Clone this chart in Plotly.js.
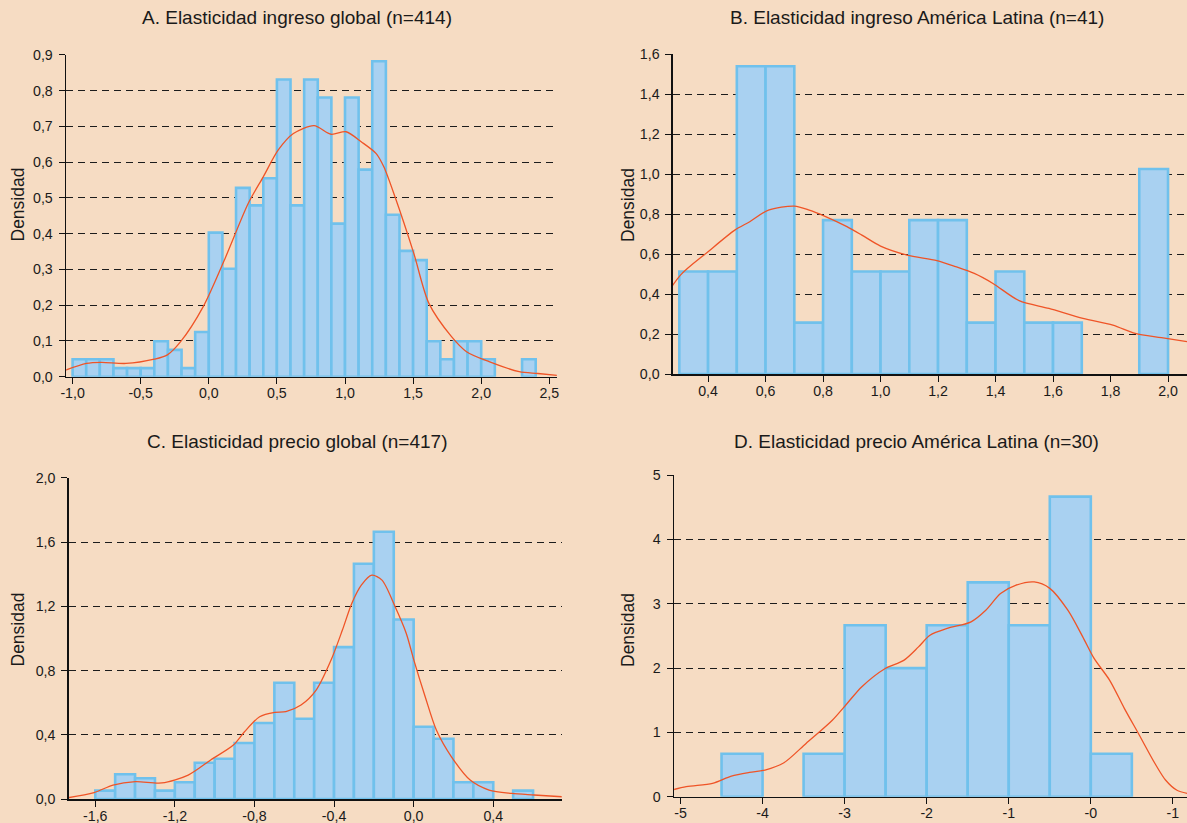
<!DOCTYPE html>
<html>
<head>
<meta charset="utf-8">
<script src="https://cdn.plot.ly/plotly-3.0.1.min.js"></script>
<style>html,body{margin:0;padding:0;background:#F6DCC3;}#chart{width:1187px;height:823px;}</style>
</head>
<body>
<div id="chart"></div>
<script>
// ---------- Panel A: Elasticidad ingreso global ----------
const A_binWidth = 0.1;
const A_binStart = [-1.0,-0.9,-0.8,-0.7,-0.6,-0.5,-0.4,-0.3,-0.2,-0.1,0.0,0.1,0.2,0.3,0.4,0.5,0.6,0.7,0.8,0.9,1.0,1.1,1.2,1.3,1.4,1.5,1.6,1.7,1.8,1.9,2.0,2.3];
const A_density = [0.049,0.049,0.049,0.024,0.024,0.024,0.099,0.075,0.024,0.125,0.403,0.302,0.528,0.479,0.555,0.831,0.479,0.831,0.781,0.428,0.781,0.579,0.882,0.453,0.352,0.326,0.099,0.049,0.099,0.099,0.049,0.049];
const A_kdeX = [-1.133,-0.898,-0.787,-0.608,-0.40,-0.304,-0.207,-0.041,0.124,0.290,0.40,0.51,0.621,0.773,0.898,1.008,1.119,1.229,1.285,1.367,1.505,1.616,1.782,1.892,2.058,2.279,2.417,2.61];
const A_kdeY = [0.007,0.037,0.040,0.037,0.049,0.061,0.098,0.196,0.335,0.485,0.559,0.634,0.680,0.702,0.678,0.685,0.657,0.624,0.587,0.503,0.345,0.205,0.112,0.070,0.042,0.014,0.009,0.002];
const A_xTicks = [-1.0,-0.5,0.0,0.5,1.0,1.5,2.0,2.5];
const A_xLabels = ["-1,0","-0,5","0,0","0,5","1,0","1,5","2,0","2,5"];
const A_yTicks = [0,0.1,0.2,0.3,0.4,0.5,0.6,0.7,0.8,0.9];
const A_yLabels = ["0,0","0,1","0,2","0,3","0,4","0,5","0,6","0,7","0,8","0,9"];

// ---------- Panel B: Elasticidad ingreso América Latina ----------
const B_binWidth = 0.1;
const B_binStart = [0.3,0.4,0.5,0.6,0.7,0.8,0.9,1.0,1.1,1.2,1.3,1.4,1.5,1.6,1.9];
const B_density = [0.513,0.513,1.54,1.54,0.257,0.77,0.513,0.513,0.77,0.77,0.257,0.513,0.257,0.257,1.026];
const B_kdeX = [0.233,0.304,0.40,0.493,0.545,0.61,0.70,0.752,0.805,0.883,0.935,1.0,1.092,1.196,1.261,1.326,1.391,1.482,1.586,1.704,1.808,1.886,1.977,2.066];
const B_kdeY = [0.345,0.495,0.612,0.72,0.762,0.82,0.84,0.82,0.79,0.737,0.695,0.64,0.595,0.567,0.537,0.503,0.453,0.367,0.328,0.278,0.245,0.203,0.182,0.162];
const B_xTicks = [0.4,0.6,0.8,1.0,1.2,1.4,1.6,1.8,2.0];
const B_xLabels = ["0,4","0,6","0,8","1,0","1,2","1,4","1,6","1,8","2,0"];
const B_yTicks = [0,0.2,0.4,0.6,0.8,1.0,1.2,1.4,1.6];
const B_yLabels = ["0,0","0,2","0,4","0,6","0,8","1,0","1,2","1,4","1,6"];

// ---------- Panel C: Elasticidad precio global ----------
const C_binWidth = 0.1;
const C_binStart = [-1.6,-1.5,-1.4,-1.3,-1.2,-1.1,-1.0,-0.9,-0.8,-0.7,-0.6,-0.5,-0.4,-0.3,-0.2,-0.1,0.0,0.1,0.2,0.3,0.5];
const C_density = [0.052,0.154,0.129,0.052,0.104,0.226,0.251,0.349,0.473,0.724,0.50,0.724,0.946,1.465,1.664,1.118,0.450,0.375,0.104,0.104,0.052];
const C_kdeX = [-1.776,-1.606,-1.511,-1.398,-1.265,-1.133,-1.02,-0.906,-0.85,-0.774,-0.698,-0.642,-0.566,-0.49,-0.415,-0.358,-0.311,-0.263,-0.210,-0.159,-0.093,-0.037,0.001,0.058,0.114,0.190,0.284,0.379,0.492,0.605,0.794];
const C_kdeY = [0.0,0.04,0.087,0.108,0.10,0.149,0.243,0.336,0.419,0.512,0.539,0.544,0.585,0.678,0.865,1.052,1.218,1.332,1.394,1.363,1.197,1.031,0.865,0.637,0.43,0.263,0.118,0.056,0.035,0.025,0.01];
const C_xTicks = [-1.6,-1.2,-0.8,-0.4,0.0,0.4];
const C_xLabels = ["-1,6","-1,2","-0,8","-0,4","0,0","0,4"];
const C_yTicks = [0,0.4,0.8,1.2,1.6,2.0];
const C_yLabels = ["0,0","0,4","0,8","1,2","1,6","2,0"];

// ---------- Panel D: Elasticidad precio América Latina ----------
const D_binWidth = 0.5;
const D_binStart = [-4.5,-3.5,-3.0,-2.5,-2.0,-1.5,-1.0,-0.5,0.0];
const D_density = [0.667,0.667,2.667,2.0,2.667,3.333,2.667,4.667,0.667];
const D_kdeX = [-5.18,-4.93,-4.61,-4.38,-4.16,-3.97,-3.74,-3.47,-3.15,-2.97,-2.79,-2.51,-2.28,-2.10,-1.96,-1.74,-1.46,-1.28,-1.10,-0.91,-0.69,-0.50,-0.28,-0.10,0.04,0.23,0.41,0.59,0.78,0.91,1.05,1.18];
const D_kdeY = [0.078,0.155,0.207,0.32,0.378,0.415,0.528,0.829,1.19,1.45,1.71,1.99,2.12,2.33,2.51,2.62,2.72,2.90,3.16,3.29,3.34,3.24,2.90,2.49,2.15,1.81,1.37,0.96,0.52,0.26,0.10,0.05];
const D_xTicks = [-5,-4,-3,-2,-1,0,1];
const D_xLabels = ["-5","-4","-3","-2","-1","-0","-1"];
const D_yTicks = [0,1,2,3,4,5];
const D_yLabels = ["0","1","2","3","4","5"];

const titles = ["A. Elasticidad ingreso global (n=414)","B. Elasticidad ingreso América Latina (n=41)","C. Elasticidad precio global (n=417)","D. Elasticidad precio América Latina (n=30)"];
const yTitle = "Densidad";

// ---------- styles ----------
const BG = '#F6DCC3';
const BAR_FILL = '#A9D1F1';
const BAR_LINE = '#70C1EC';
const KDE = '#EF5427';
const W = 1187, H = 823;

function barTrace(starts, dens, w, ax){
  return {type:'bar', x: starts.map(s => s + w/2), y: dens, width: starts.map(() => w),
    marker:{color:BAR_FILL, line:{color:BAR_LINE, width:2.6}}, xaxis:'x'+ax, yaxis:'y'+ax,
    hoverinfo:'skip', showlegend:false};
}
function kdeTrace(x, y, ax){
  return {type:'scatter', mode:'lines', x:x, y:y, line:{color:KDE, width:1.3, shape:'spline', smoothing:0.8},
    xaxis:'x'+ax, yaxis:'y'+ax, hoverinfo:'skip', showlegend:false};
}
const data = [
  barTrace(A_binStart, A_density, A_binWidth, ''), kdeTrace(A_kdeX, A_kdeY, ''),
  barTrace(B_binStart, B_density, B_binWidth, '2'), kdeTrace(B_kdeX, B_kdeY, '2'),
  barTrace(C_binStart, C_density, C_binWidth, '3'), kdeTrace(C_kdeX, C_kdeY, '3'),
  barTrace(D_binStart, D_density, D_binWidth, '4'), kdeTrace(D_kdeX, D_kdeY, '4')
];

const tickFont = {family:'Liberation Sans, Arial, sans-serif', size:14.2, color:'#1a1a1a'};
function xAxis(domain, range, tv, tt, anchor){
  return {domain:domain, range:range, tickmode:'array', tickvals:tv, ticktext:tt, showgrid:false, zeroline:false,
    showline:true, linecolor:'#111', linewidth:1.6, ticks:'outside', ticklen:6, tickwidth:1, tickcolor:'#111',
    tickfont:tickFont, anchor:anchor, fixedrange:true, ticklabelstandoff:-3};
}
function yAxis(domain, range, tv, tt, anchor){
  return {domain:domain, range:range, tickmode:'array', tickvals:tv, ticktext:tt, showgrid:true, gridcolor:'#1c1c1c',
    gridwidth:1, griddash:'7px,5px', zeroline:false, showline:true, linecolor:'#111', linewidth:1.6,
    ticks:'outside', ticklen:6, tickwidth:1, tickcolor:'#111', tickfont:tickFont, anchor:anchor, fixedrange:true, ticklabelstandoff:3};
}
function px(xp){ return xp / W; }
function py(yp){ return 1 - yp / H; }

const layout = {
  width:W, height:H, autosize:false, margin:{l:0,r:0,t:0,b:0},
  paper_bgcolor:BG, plot_bgcolor:BG, bargap:0, showlegend:false,
  font:{family:'Liberation Sans, Arial, sans-serif', color:'#1a1a1a'},
  xaxis:  xAxis([px(66.2), px(556.8)], [-1.047, 2.555], A_xTicks, A_xLabels, 'y'),
  yaxis:  yAxis([py(376.7), py(54.7)], [0, 0.9005], A_yTicks, A_yLabels, 'x'),
  xaxis2: xAxis([px(673), 1], [0.278, 2.066], B_xTicks, B_xLabels, 'y2'),
  yaxis2: yAxis([py(374), py(54)], [0, 1.601], B_yTicks, B_yLabels, 'x2'),
  xaxis3: xAxis([px(68.8), px(561.7)], [-1.733, 0.744], C_xTicks, C_xLabels, 'y3'),
  yaxis3: yAxis([py(799), py(477.7)], [0, 2.001], C_yTicks, C_yLabels, 'x3'),
  xaxis4: xAxis([px(674.1), 1], [-5.078, 1.172], D_xTicks, D_xLabels, 'y4'),
  yaxis4: yAxis([py(796.7), py(475)], [0, 5.003], D_yTicks, D_yLabels, 'x4'),
  annotations: [
    {text:titles[0], x:px(296.7), y:py(17), xref:'paper', yref:'paper', xanchor:'center', yanchor:'middle', showarrow:false, font:{size:19, color:'#1a1a1a'}},
    {text:titles[1], x:px(916.7), y:py(17), xref:'paper', yref:'paper', xanchor:'center', yanchor:'middle', showarrow:false, font:{size:19, color:'#1a1a1a'}},
    {text:titles[2], x:px(296.7), y:py(441), xref:'paper', yref:'paper', xanchor:'center', yanchor:'middle', showarrow:false, font:{size:19, color:'#1a1a1a'}},
    {text:titles[3], x:px(916.7), y:py(441), xref:'paper', yref:'paper', xanchor:'center', yanchor:'middle', showarrow:false, font:{size:19, color:'#1a1a1a'}},
    {text:yTitle, x:px(17.5), y:py(205), xref:'paper', yref:'paper', xanchor:'center', yanchor:'middle', textangle:-90, showarrow:false, font:{size:17.5, color:'#1a1a1a'}},
    {text:yTitle, x:px(628), y:py(205), xref:'paper', yref:'paper', xanchor:'center', yanchor:'middle', textangle:-90, showarrow:false, font:{size:17.5, color:'#1a1a1a'}},
    {text:yTitle, x:px(17.5), y:py(630), xref:'paper', yref:'paper', xanchor:'center', yanchor:'middle', textangle:-90, showarrow:false, font:{size:17.5, color:'#1a1a1a'}},
    {text:yTitle, x:px(628), y:py(630), xref:'paper', yref:'paper', xanchor:'center', yanchor:'middle', textangle:-90, showarrow:false, font:{size:17.5, color:'#1a1a1a'}}
  ]
};

Plotly.newPlot('chart', data, layout, {staticPlot:true, displayModeBar:false});
</script>
</body>
</html>
